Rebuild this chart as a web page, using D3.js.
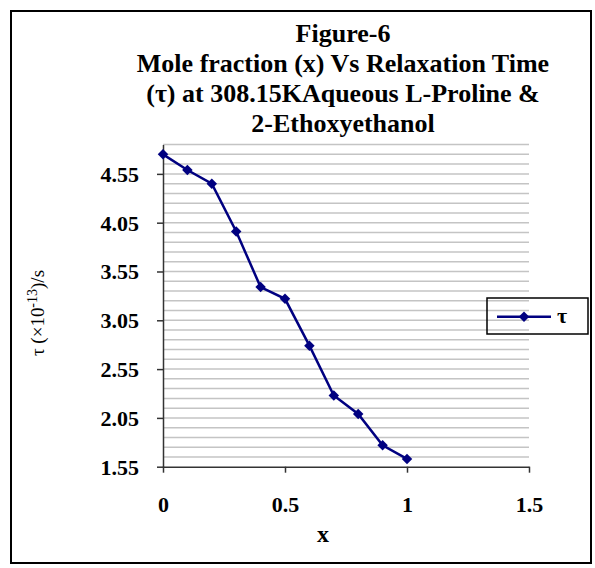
<!DOCTYPE html>
<html><head><meta charset="utf-8">
<script src="https://cdn.jsdelivr.net/npm/d3@7"></script>
<style>body{margin:0;background:#fff}</style>
</head><body>
<script>
const xValues = [0, 0.1, 0.2, 0.3, 0.4, 0.5, 0.6, 0.7, 0.8, 0.9, 1.0];
const tauValues = [4.75, 4.59, 4.45, 3.96, 3.39, 3.27, 2.79, 2.28, 2.09, 1.77, 1.63];
const yTicks = [1.55, 2.05, 2.55, 3.05, 3.55, 4.05, 4.55];
const xTicks = [0, 0.5, 1, 1.5];
const titleLines = ["Figure-6", "Mole fraction (x) Vs Relaxation Time", "(τ) at 308.15KAqueous L-Proline &", "2-Ethoxyethanol"];
const seriesName = "τ";
const yMin = 1.55, yMax = 4.85, gridStep = 0.1;

const W = 595, H = 568;
const svg = d3.select("body").append("svg").attr("width", W).attr("height", H)
  .style("font-family", "'Liberation Serif','Times New Roman',serif");
svg.append("rect").attr("width", W).attr("height", H).attr("fill", "#fff");
svg.append("rect").attr("x", 11).attr("y", 11).attr("width", 580).attr("height", 552)
  .attr("fill", "none").attr("stroke", "#000").attr("stroke-width", 2);

const x = d3.scaleLinear().domain([0, 1.5]).range([163, 529]);
const y = d3.scaleLinear().domain([yMin, yMax]).range([466.7, 144.6]);

// gridlines
const nGrid = Math.round((yMax - yMin) / gridStep);
const gridVals = d3.range(1, nGrid + 1).map(i => yMin + i * gridStep);
svg.append("g").selectAll("line").data(gridVals).join("line")
  .attr("x1", x(0)).attr("x2", x(1.5))
  .attr("y1", d => y(d)).attr("y2", d => y(d))
  .attr("stroke", "#c4c4c4").attr("stroke-width", 1.5);

// axes
const yAxis = svg.append("g").attr("transform", `translate(${x(0)},0)`)
  .call(d3.axisLeft(y).tickValues(yTicks).tickFormat(d3.format(".2f")).tickSize(6).tickPadding(18).tickSizeOuter(0));
yAxis.select(".domain").attr("stroke", "#333").attr("stroke-width", 1.5);
yAxis.selectAll(".tick line").attr("stroke", "#333").attr("stroke-width", 1.5);
yAxis.selectAll("text").attr("font-family", "'Liberation Serif',serif").attr("font-size", 22)
  .attr("font-weight", "bold").attr("fill", "#000").attr("dy", "0.34em");

const xAxis = svg.append("g").attr("transform", `translate(0,${y(yMin)})`)
  .call(d3.axisBottom(x).tickValues(xTicks).tickFormat(d => String(d)).tickSize(6).tickSizeOuter(0));
xAxis.select(".domain").attr("stroke", "#333").attr("stroke-width", 1.5);
xAxis.selectAll(".tick line").attr("stroke", "#333").attr("stroke-width", 1.5);
xAxis.selectAll("text").attr("font-family", "'Liberation Serif',serif").attr("font-size", 22)
  .attr("font-weight", "bold").attr("fill", "#000").attr("dy", null).attr("y", 45);

// series
const pts = xValues.map((v, i) => [v, tauValues[i]]);
svg.append("path").datum(pts)
  .attr("d", d3.line().x(d => x(d[0])).y(d => y(d[1])))
  .attr("fill", "none").attr("stroke", "#000080").attr("stroke-width", 2.5);
const diamond = d3.symbol().type(d3.symbolDiamond2).size(70);
svg.append("g").selectAll("path").data(pts).join("path")
  .attr("d", diamond).attr("transform", d => `translate(${x(d[0])},${y(d[1])})`)
  .attr("fill", "#000080");

// title
svg.append("g").selectAll("text").data(titleLines).join("text")
  .attr("x", 343).attr("y", (d, i) => 42 + i * 30)
  .attr("text-anchor", "middle").attr("font-size", 26).attr("font-weight", "bold")
  .text(d => d);

// axis titles
svg.append("text").attr("x", 323).attr("y", 542).attr("text-anchor", "middle")
  .attr("font-size", 24).attr("font-weight", "bold").text("x");
const yl = svg.append("text").attr("transform", "translate(44,313) rotate(-90)")
  .attr("text-anchor", "middle").attr("font-size", 19);
yl.append("tspan").text("τ (×10");
yl.append("tspan").attr("baseline-shift", "super").attr("font-size", 14).text("-13");
yl.append("tspan").text(")/s");

// legend
svg.append("rect").attr("x", 487).attr("y", 298).attr("width", 101).attr("height", 36)
  .attr("fill", "none").attr("stroke", "#000").attr("stroke-width", 1.5);
svg.append("line").attr("x1", 497).attr("x2", 551).attr("y1", 316.7).attr("y2", 316.7)
  .attr("stroke", "#000080").attr("stroke-width", 2.5);
svg.append("path").attr("d", diamond).attr("transform", "translate(524,316.7)").attr("fill", "#000080");
svg.append("text").attr("x", 557).attr("y", 323).attr("font-size", 22).attr("font-weight", "bold").text(seriesName);
</script>
</body></html>
